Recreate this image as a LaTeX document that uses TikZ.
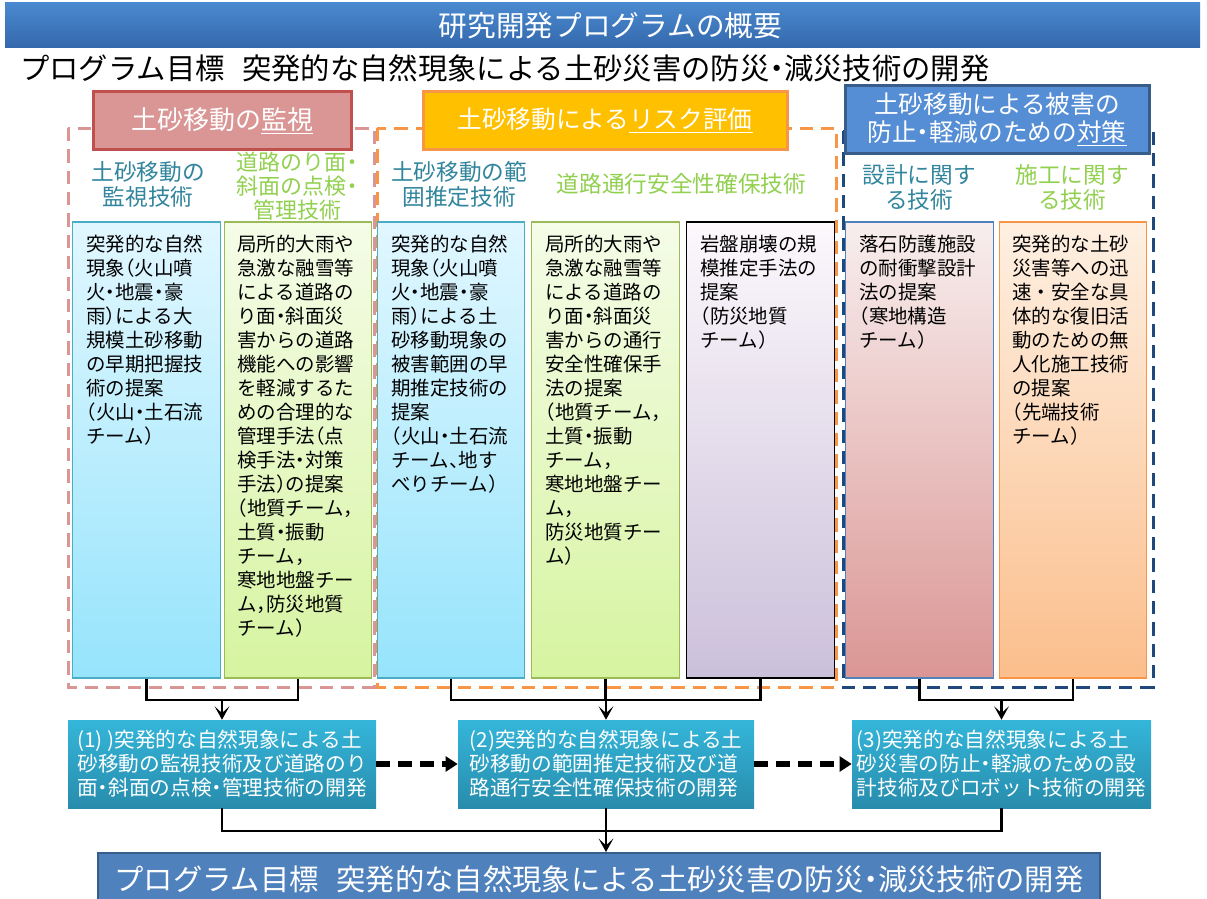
\documentclass[tikz,border=0pt]{standalone}
\usepackage{fontspec}
\setmainfont{Noto Sans CJK JP}[RawFeature=+halt]
\usetikzlibrary{arrows.meta}
\definecolor{bannerT}{RGB}{74,137,207}
\definecolor{bannerB}{RGB}{52,104,172}
\definecolor{cyanT}{RGB}{225,247,255}
\definecolor{cyanB}{RGB}{150,228,252}
\definecolor{cyanD}{RGB}{75,172,198}
\definecolor{greenT}{RGB}{245,252,232}
\definecolor{greenB}{RGB}{214,244,160}
\definecolor{greenD}{RGB}{155,187,89}
\definecolor{lavT}{RGB}{252,248,252}
\definecolor{lavB}{RGB}{203,192,218}
\definecolor{pinkT}{RGB}{248,238,238}
\definecolor{pinkB}{RGB}{218,150,148}
\definecolor{blueD}{RGB}{79,129,189}
\definecolor{peachT}{RGB}{254,240,226}
\definecolor{peachB}{RGB}{251,190,140}
\definecolor{peachD}{RGB}{247,150,70}
\definecolor{tealtxt}{RGB}{49,133,156}
\definecolor{greentxt}{RGB}{146,208,80}
\definecolor{redfill}{RGB}{217,150,148}
\definecolor{redline}{RGB}{192,80,77}
\definecolor{orfill}{RGB}{255,192,0}
\definecolor{orline}{RGB}{247,150,70}
\definecolor{blfill}{RGB}{85,142,213}
\definecolor{blline}{RGB}{56,93,138}
\definecolor{grpblue}{RGB}{31,73,125}
\definecolor{botT}{RGB}{52,182,218}
\definecolor{botB}{RGB}{40,140,172}
\definecolor{finfill}{RGB}{79,129,189}
\begin{document}
\begin{tikzpicture}[x=0.75pt,y=-0.75pt,
  colbox/.style={draw, line width=0.9pt, minimum width=110.6pt, minimum height=342pt, inner sep=0pt},
  coltext/.style={anchor=north west, align=left, inner sep=0pt, font=\fontsize{14.6pt}{18pt}\selectfont},
  headbox/.style={draw, line width=2.25pt, text=white, align=center, inner sep=0pt},
  subtxt/.style={align=center, inner sep=0pt, font=\fontsize{17pt}{18.75pt}\selectfont},
  grpbox/.style={line width=2.25pt, dash pattern=on 10pt off 6pt},
  conn/.style={line width=2.2pt},
  arr/.style={conn, -{Stealth[length=10pt,width=11pt,inset=5pt]}},
  dasharr/.style={line width=3.8pt, dash pattern=on 10pt off 6.5pt, -{Triangle[length=9pt,width=11pt]}},
  botbox/.style={top color=botT, bottom color=botB, text=white, align=left, minimum height=66pt, inner sep=0pt, font=\fontsize{15.5pt}{18pt}\selectfont}
]
\clip (0,0) rectangle (1207,899);
\fill[white] (0,0) rectangle (1207,899);

% banner and subtitle
\node[top color=bannerT, bottom color=bannerB, minimum width=896.25pt, minimum height=33.75pt, inner sep=0pt,
  text=white, font=\fontsize{21.5pt}{24pt}\selectfont] (banner) at (602.5,25.5) {\hspace{12pt}研究開発プログラムの概要};
\node[anchor=west, inner sep=0pt, font=\fontsize{22pt}{24pt}\selectfont] (goal) at (20,68)
  {プログラム目標\hspace{0.6em}突発的な自然現象による土砂災害の防災・減災技術の開発};

% dashed groups
\draw[grpbox, draw=redfill] (68,128) rectangle (374,687);
\draw[grpbox, draw=orline] (377,128) rectangle (836,687);
\draw[grpbox, draw=grpblue] (843,131) rectangle (1153,687);

% headers
\node[headbox, fill=redfill, draw=redline, minimum width=193.5pt, minimum height=42.75pt,
  font=\fontsize{19.5pt}{22pt}\selectfont] (hred) at (222,120.5) {土砂移動の\underline{監視}};
\node[headbox, fill=orfill, draw=orline, minimum width=273pt, minimum height=42.75pt,
  font=\fontsize{18.5pt}{22pt}\selectfont] (hor) at (605,120.5) {土砂移動による\underline{リスク評価}};
\node[headbox, fill=blfill, draw=blline, minimum width=228pt, minimum height=50.25pt,
  font=\fontsize{18.5pt}{21pt}\selectfont] (hbl) at (997,119.5) {土砂移動による被害の\\防止・軽減のための\underline{対策}};

% sub headings
\node[subtxt, text=tealtxt] (s1) at (148,184.5) {土砂移動の\\監視技術};
\node[subtxt, text=greentxt, font=\fontsize{16.5pt}{18pt}\selectfont] (s2) at (297,186) {道路のり面・\\斜面の点検・\\管理技術};
\node[subtxt, text=tealtxt] (s3) at (459,184.5) {土砂移動の範\\囲推定技術};
\node[subtxt, text=greentxt] (s4) at (681.5,184) {道路通行安全性確保技術};
\node[subtxt, text=tealtxt] (s5) at (919,187.5) {設計に関す\\る技術};
\node[subtxt, text=greentxt] (s6) at (1072,187.5) {施工に関す\\る技術};

% columns
\node[colbox, top color=cyanT, bottom color=cyanB, draw=cyanD] (c1) at (146.5,450) {};
\node[colbox, top color=greenT, bottom color=greenB, draw=greenD] (c2) at (298,450) {};
\node[colbox, top color=cyanT, bottom color=cyanB, draw=cyanD] (c3) at (451,450) {};
\node[colbox, top color=greenT, bottom color=greenB, draw=greenD] (c4) at (605.5,450) {};
\node[colbox, top color=lavT, bottom color=lavB, draw=black] (c5) at (760.5,450) {};
\node[colbox, top color=pinkT, bottom color=pinkB, draw=blueD] (c6) at (919.5,450) {};
\node[colbox, top color=peachT, bottom color=peachB, draw=peachD] (c7) at (1073,450) {};

\node[coltext] (t1) at (86,235) {突発的な自然\\現象（火山噴\\火・地震・豪\\雨）による大\\規模土砂移動\\の早期把握技\\術の提案\\（火山・土石流\\チーム）};
\node[coltext] (t2) at (237,235) {局所的大雨や\\急激な融雪等\\による道路の\\り面・斜面災\\害からの道路\\機能への影響\\を軽減するた\\めの合理的な\\管理手法（点\\検手法・対策\\手法）の提案\\（地質チーム，\\土質・振動\\チーム，\\寒地地盤チー\\ム，防災地質\\チーム）};
\node[coltext] (t3) at (391,235) {突発的な自然\\現象（火山噴\\火・地震・豪\\雨）による土\\砂移動現象の\\被害範囲の早\\期推定技術の\\提案\\（火山・土石流\\チーム、地す\\べりチーム）};
\node[coltext] (t4) at (545,235) {局所的大雨や\\急激な融雪等\\による道路の\\り面・斜面災\\害からの通行\\安全性確保手\\法の提案\\（地質チーム，\\土質・振動\\チーム，\\寒地地盤チー\\ム，\\防災地質チー\\ム）};
\node[coltext] (t5) at (700,235) {岩盤崩壊の規\\模推定手法の\\提案\\（防災地質\\チーム）};
\node[coltext] (t6) at (859,235) {落石防護施設\\の耐衝撃設計\\法の提案\\（寒地構造\\チーム）};
\node[coltext] (t7) at (1012,235) {突発的な土砂\\災害等への迅\\速\hspace{0.25em}・\hspace{0.25em}安全な具\\体的な復旧活\\動のための無\\人化施工技術\\の提案\\（先端技術\\チーム）};

% bottom boxes
\node[botbox, minimum width=231pt] (b1) at (222,764) {(1) )突発的な自然現象による土\\砂移動の監視技術及び道路のり\\面・斜面の点検・管理技術の開発};
\node[botbox, minimum width=222pt] (b2) at (606,764) {(2)突発的な自然現象による土\\砂移動の範囲推定技術及び道\\路通行安全性確保技術の開発};
\node[botbox, minimum width=224.25pt] (b3) at (1001.5,764) {(3)突発的な自然現象による土\\砂災害の防止・軽減のための設\\計技術及びロボット技術の開発};

% final box
\node[fill=finfill, draw=blline, line width=1.5pt, minimum width=751.5pt, minimum height=39pt, inner sep=0pt,
  text=white, font=\fontsize{22pt}{24pt}\selectfont] (fin) at (599,879)
  {プログラム目標\hspace{0.6em}突発的な自然現象による土砂災害の防災・減災技術の開発};

% connectors
\coordinate (j1) at (222,700);
\coordinate (j2) at (606,700);
\coordinate (j3) at (1001.5,700);
\draw[conn] (c1.south) |- (j1) -| (c2.south);
\draw[arr] (j1) -- (b1.north);
\draw[conn] (c3.south) |- (j2) -| (c5.south);
\draw[conn] (c4.south) -- (c4.south |- j2);
\draw[arr] (j2) -- (b2.north);
\draw[conn] (c6.south) |- (j3) -| (c7.south);
\draw[arr] (j3) -- (b3.north);

\draw[dasharr] (b1.east) -- (b2.west);
\draw[dasharr] (b2.east) -- (b3.west);

\coordinate (k1) at (222,831);
\coordinate (k3) at (1001.5,831);
\draw[conn] (b1.south) -- (k1) -- (k3) -- (b3.south);
\draw[arr] (b2.south) -- (b2.south |- fin.north);
\end{tikzpicture}
\end{document}
